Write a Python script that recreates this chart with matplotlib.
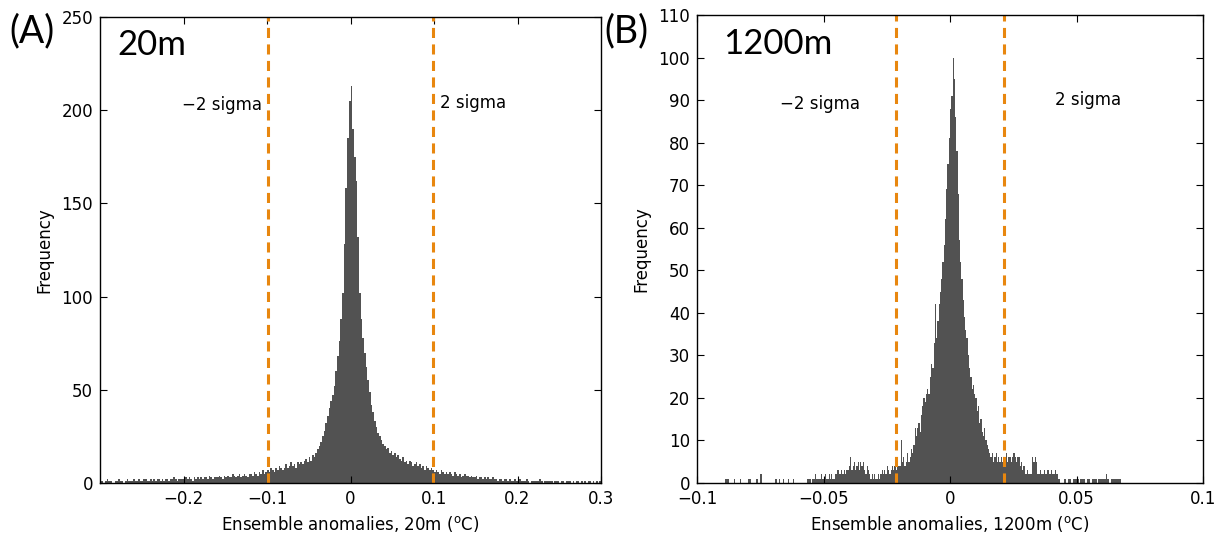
import numpy as np
import matplotlib
matplotlib.use('Agg')
import matplotlib.pyplot as plt

plt.rcParams['font.family'] = 'DejaVu Sans'
plt.rcParams['mathtext.default'] = 'regular'

# ---- panel A: 20m ensemble anomalies, bins of 0.002 from -0.3 to 0.3
bin_a = 0.002
start_a = -0.3
counts_a = [
    1, 1, 0, 1, 2, 1, 1, 0, 0, 1,
    1, 2, 1, 1, 0, 1, 2, 1, 1, 1,
    2, 1, 1, 2, 1, 1, 2, 2, 1, 1,
    2, 1, 2, 1, 2, 2, 1, 2, 1, 2,
    2, 1, 2, 2, 3, 2, 1, 2, 2, 2,
    2, 3, 2, 3, 2, 1, 3, 2, 3, 2,
    3, 2, 3, 3, 2, 4, 3, 2, 3, 3,
    3, 4, 3, 2, 4, 3, 4, 3, 3, 5,
    4, 3, 4, 5, 3, 4, 5, 4, 3, 5,
    5, 4, 6, 5, 4, 6, 5, 7, 5, 6,
    7, 6, 8, 7, 6, 8, 7, 9, 8, 7,
    8, 10, 8, 9, 11, 9, 10, 8, 11, 10,
    11, 10, 12, 13, 11, 14, 12, 15, 14, 16,
    18, 20, 22, 25, 28, 32, 36, 40, 44, 47,
    52, 60, 68, 76, 88, 102, 128, 158, 185, 205,
    213, 190, 175, 162, 132, 102, 88, 78, 70, 62,
    55, 49, 42, 38, 33, 30, 27, 25, 23, 21,
    20, 18, 19, 16, 17, 15, 16, 14, 15, 13,
    12, 14, 11, 12, 10, 12, 11, 9, 10, 11,
    9, 10, 8, 9, 7, 9, 8, 7, 8, 7,
    6, 7, 6, 5, 7, 6, 5, 6, 5, 6,
    5, 4, 6, 5, 4, 5, 3, 4, 5, 4,
    4, 3, 4, 3, 3, 4, 2, 3, 3, 2,
    3, 2, 3, 2, 2, 3, 2, 2, 1, 2,
    2, 1, 2, 2, 1, 2, 1, 1, 2, 1,
    1, 2, 1, 1, 1, 2, 1, 0, 1, 1,
    1, 1, 1, 2, 1, 0, 1, 1, 1, 1,
    1, 0, 1, 1, 1, 0, 1, 1, 0, 1,
    1, 1, 0, 1, 0, 1, 1, 0, 1, 0,
    1, 0, 1, 1, 0, 1, 0, 1, 0, 1,
]
sigma_a = [-0.099, 0.099]

# ---- panel B: 1200m ensemble anomalies, bins of 0.0005 from -0.09 to 0.07
bin_b = 0.0005
start_b = -0.09
counts_b = [
    0, 0, 1, 1, 1, 0, 0, 0, 0, 1, 0, 0, 0, 0, 1, 0, 0, 0, 0, 0,
    1, 1, 1, 0, 0, 0, 0, 1, 0, 0, 2, 0, 0, 0, 0, 0, 0, 0, 0, 0,
    0, 0, 1, 0, 0, 1, 0, 0, 1, 0, 0, 0, 1, 0, 0, 0, 1, 0, 0, 0,
    0, 0, 0, 0, 0, 0, 0, 1, 1, 1, 0, 1, 1, 2, 1, 1, 1, 1, 2, 1,
    1, 2, 1, 1, 2, 1, 2, 1, 1, 2, 2, 3, 2, 2, 3, 2, 3, 2, 3, 3,
    4, 6, 3, 4, 5, 3, 4, 5, 3, 5, 4, 5, 3, 2, 4, 3, 2, 1, 2, 1,
    2, 1, 1, 2, 1, 2, 3, 2, 3, 2, 4, 3, 2, 3, 4, 3, 4, 3, 5, 4,
    4, 10, 5, 6, 4, 5, 7, 5, 6, 8, 7, 9, 13, 11, 13, 14, 12, 16, 18, 20,
    19, 21, 22, 21, 25, 28, 27, 33, 42, 34, 38, 42, 45, 48, 52, 56, 62, 69, 75, 81,
    88, 91, 100, 95, 86, 78, 68, 57, 52, 48, 43, 39, 36, 34, 30, 27, 25, 22, 23, 21,
    20, 17, 18, 14, 15, 12, 11, 13, 10, 9, 8, 7, 6, 7, 5, 6, 7, 5, 6, 5,
    6, 5, 4, 6, 7, 5, 6, 6, 5, 6, 7, 6, 5, 6, 6, 4, 5, 3, 4, 2,
    2, 3, 2, 2, 2, 6, 5, 6, 5, 2, 2, 3, 2, 2, 3, 2, 2, 3, 2, 2,
    3, 2, 2, 3, 2, 1, 1, 0, 0, 0, 1, 1, 0, 1, 1, 1, 0, 1, 1, 1,
    1, 1, 0, 1, 1, 1, 1, 0, 1, 1, 1, 0, 1, 1, 1, 1, 0, 1, 1, 1,
    1, 1, 1, 2, 1, 1, 0, 1, 1, 1, 1, 1, 1, 1, 1, 0, 0, 0, 0, 0,
]
sigma_b = [-0.0215, 0.0215]

bar_color = '#525252'
line_color = '#e8870f'


def draw_panel(ax, counts, start, width, sigmas, xlim, ylim, xticks, yticks, xlabels):
    edges = start + width * np.arange(len(counts) + 1)
    ax.stairs(counts, edges, fill=True, color=bar_color, linewidth=0)
    for s in sigmas:
        ax.axvline(s, color=line_color, lw=2.2, linestyle=(0, (3.3, 2.1)))
    ax.set_xlim(xlim)
    ax.set_ylim(ylim)
    ax.set_xticks(xticks)
    ax.set_xticklabels(xlabels)
    ax.set_yticks(yticks)
    ax.tick_params(direction='in', top=True, right=True, length=5,
                   labelsize=12, pad=5, width=0.8)
    for sp in ax.spines.values():
        sp.set_linewidth(1.0)
    ax.set_ylabel('Frequency', fontsize=12, labelpad=6)


fig = plt.figure(figsize=(12.26, 5.41), dpi=100)
ax1 = fig.add_axes([100 / 1226, 1 - 483 / 541, 501 / 1226, 466 / 541])
ax2 = fig.add_axes([697 / 1226, 1 - 483 / 541, 506 / 1226, 468 / 541])

draw_panel(ax1, counts_a, start_a, bin_a, sigma_a, (-0.3, 0.3), (0, 250),
           [-0.2, -0.1, 0, 0.1, 0.2, 0.3], range(0, 251, 50),
           ['\u22120.2', '\u22120.1', '0', '0.1', '0.2', '0.3'])
ax1.set_xlabel('Ensemble anomalies, 20m ($^{o}$C)', fontsize=12, labelpad=4)
ax1.text(-0.106, 203, '\u22122 sigma', ha='right', va='center', fontsize=12)
ax1.text(0.107, 204, '2 sigma', ha='left', va='center', fontsize=12)
ax1.text(-0.2795, 235, '20m', ha='left', va='center', fontsize=25, family='Lato')

draw_panel(ax2, counts_b, start_b, bin_b, sigma_b, (-0.1, 0.1), (0, 110),
           [-0.1, -0.05, 0, 0.05, 0.1], range(0, 111, 10),
           ['\u22120.1', '\u22120.05', '0', '0.05', '0.1'])
ax2.set_xlabel('Ensemble anomalies, 1200m ($^{o}$C)', fontsize=12, labelpad=4)
ax2.text(-0.0355, 89, '\u22122 sigma', ha='right', va='center', fontsize=12)
ax2.text(0.0415, 90, '2 sigma', ha='left', va='center', fontsize=12)
ax2.text(-0.0897, 103.3, '1200m', ha='left', va='center', fontsize=25, family='Lato')

fig.text(9 / 1226, 1 - 31 / 541, '(A)', ha='left', va='center', fontsize=27, family='Lato')
fig.text(604 / 1226, 1 - 31 / 541, '(B)', ha='left', va='center', fontsize=27, family='Lato')

fig.savefig('out.png', dpi=100)
